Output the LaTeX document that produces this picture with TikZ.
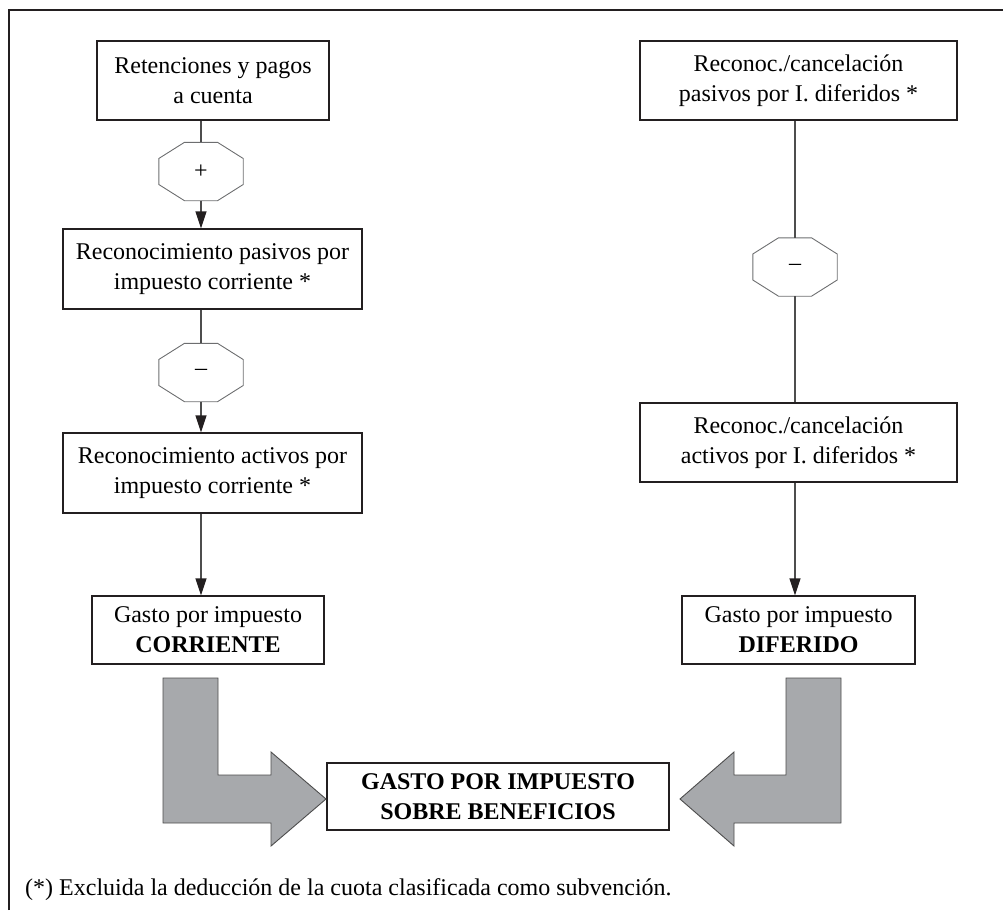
\documentclass[tikz,border=0pt]{standalone}
\usepackage{fontspec}
\setmainfont{Liberation Serif}
\usetikzlibrary{arrows.meta}
\definecolor{boxline}{HTML}{231F20}
\definecolor{connline}{HTML}{4D4D4D}
\definecolor{octline}{HTML}{6D6E70}
\definecolor{bigarrow}{HTML}{A7A9AC}

% octagon round a named (empty) node
\newcommand{\octagon}[1]{%
  \draw[octedge] ([xshift=-16.5pt]#1.north) -- ([xshift=16.5pt]#1.north)
    -- ([yshift=13pt]#1.east) -- ([yshift=-13pt]#1.east)
    -- ([xshift=16.5pt]#1.south) -- ([xshift=-16.5pt]#1.south)
    -- ([yshift=-13pt]#1.west) -- ([yshift=13pt]#1.west) -- cycle;}

\begin{document}
\begin{tikzpicture}[
  x=1pt, y=-1pt,
  box/.style={rectangle, draw=boxline, line width=1.3pt, align=center, inner sep=0pt},
  oct/.style={rectangle, minimum width=84pt, minimum height=58pt, inner sep=0pt},
  conn/.style={draw=connline, line width=1.3pt},
  arr/.style={conn, -{Triangle[length=17pt,width=11pt,color=boxline]}},
  octedge/.style={draw=octline, line width=0.9pt},
  bigarr/.style={fill=bigarrow, draw=connline, line width=0.9pt},
  font=\fontsize{24}{30}\selectfont
]
\useasboundingbox (0,0) rectangle (1003,910);

% Frame
\draw[boxline, line width=1.3pt] (9,910) -- (9,10) -- (1003,10);

% Left column
\node[box, minimum width=232pt, minimum height=79pt] (reten) at (213,80.5) {Retenciones y pagos\\a cuenta};
\node[oct] (plus) at (201,171.5) {+};
\node[box, minimum width=299pt, minimum height=80pt] (pasivos) at (212.5,269) {Reconocimiento pasivos por\\impuesto corriente *};
\node[oct] (minusl) at (201,372.5) {–};
\node[box, minimum width=299pt, minimum height=80pt] (activos) at (212.5,473) {Reconocimiento activos por\\impuesto corriente *};
\node[box, minimum width=232pt, minimum height=68pt] (corriente) at (208,630) {Gasto por impuesto\\\textbf{CORRIENTE}};

% Right column
\node[box, minimum width=317pt, minimum height=79pt] (pasdif) at (798.5,80.5) {Reconoc./cancelación\\pasivos por I. diferidos *};
\node[oct] (minusr) at (795,267) {–};
\node[box, minimum width=317pt, minimum height=79pt] (actdif) at (798.5,442.5) {Reconoc./cancelación\\activos por I. diferidos *};
\node[box, minimum width=233pt, minimum height=68pt] (diferido) at (798.5,630) {Gasto por impuesto\\\textbf{DIFERIDO}};

% Total
\node[box, minimum width=342pt, minimum height=67pt, font=\bfseries\fontsize{24}{30}\selectfont] (total) at (498,796.5) {GASTO POR IMPUESTO\\SOBRE BENEFICIOS};

% Note
\node[anchor=west, inner sep=0pt] (nota) at (25,890) {(*) Excluida la deducción de la cuota clasificada como subvención.};

% Octagons
\octagon{plus}
\octagon{minusl}
\octagon{minusr}

% Connections
\draw[conn] (reten.south -| plus) -- (plus.north);
\draw[arr] (plus.south) -- (plus.south |- pasivos.north);
\draw[conn] (pasivos.south -| minusl) -- (minusl.north);
\draw[arr] (minusl.south) -- (minusl.south |- activos.north);
\draw[arr] (activos.south -| minusl) -- (minusl |- corriente.north);
\draw[conn] (pasdif.south -| minusr) -- (minusr.north);
\draw[conn] (minusr.south) -- (minusr.south |- actdif.north);
\draw[arr] (actdif.south -| minusr) -- (minusr |- diferido.north);

% Big arrows
\draw[bigarr] (163,678) -- (218,678) -- (218,775) -- (271,775) -- (271,752) -- (326,799) -- (271,846) -- (271,823) -- (163,823) -- cycle;
\draw[bigarr] (841,678) -- (786,678) -- (786,775) -- (734,775) -- (734,752) -- (680,799) -- (734,846) -- (734,823) -- (841,823) -- cycle;
\end{tikzpicture}
\end{document}
